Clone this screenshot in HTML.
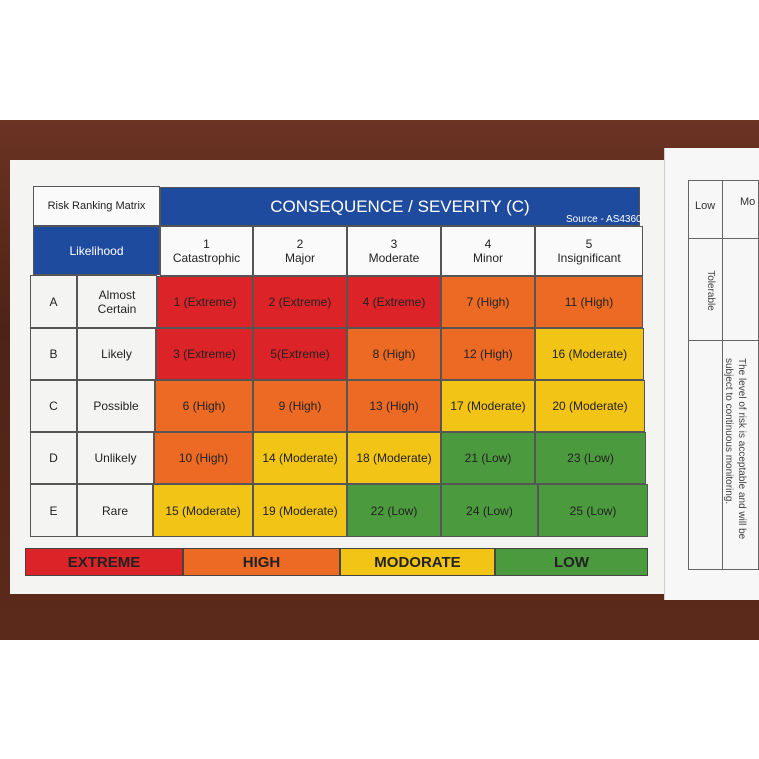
<!DOCTYPE html>
<html><head><style>
body{margin:0;width:759px;height:759px;background:#fff;position:relative;overflow:hidden;font-family:"Liberation Sans",sans-serif}
div{position:absolute;box-sizing:border-box}
.c{display:flex;align-items:center;justify-content:center;text-align:center;font-size:12px;color:#222;border:1px solid #555}
.r{background:#dc2328}.o{background:#ec6a24}.y{background:#f1c416}.g{background:#4b9a3d}
</style></head><body>
<div style="left:0;top:120px;width:759px;height:520px;background:linear-gradient(180deg,#6b3322,#4e2316 40%,#5c2a1b)"></div>
<div style="left:10px;top:160px;width:656px;height:434px;background:#f4f4f2"></div>
<div style="left:664px;top:148px;width:95px;height:452px;background:#f7f7f7;border-left:1px solid #ccc"></div>
<div style="left:688px;top:180px;width:71px;height:390px;border:1px solid #666"></div>
<div style="left:688px;top:238px;width:71px;height:1px;background:#666"></div>
<div style="left:688px;top:340px;width:71px;height:1px;background:#666"></div>
<div style="left:722px;top:180px;width:1px;height:390px;background:#666"></div>
<div style="left:695px;top:200px;font-size:11px;color:#333">Low</div>
<div style="left:740px;top:196px;font-size:11px;color:#333">Mo</div>
<div style="left:690px;top:285px;font-size:10px;color:#444;transform:rotate(90deg)">Tolerable</div>
<div style="left:640px;top:440px;width:190px;font-size:10px;color:#444;transform:rotate(90deg);line-height:13px">The level of risk is acceptable and will be subject to continuous monitoring.</div>

<div class="c" style="left:33px;top:186px;width:127px;height:40px;font-size:11px;background:#fafafa">Risk Ranking Matrix</div>
<div class="c" style="left:160px;top:187px;width:480px;height:39px;background:#1f4b9e;color:#fff;font-size:17px">CONSEQUENCE / SEVERITY (C)</div>
<div style="left:566px;top:214px;font-size:10px;color:#fff">Source - AS4360</div>
<div class="c" style="left:33px;top:226px;width:127px;height:49px;background:#1f4b9e;color:#fff;font-size:12px">Likelihood</div>
<div class="c" style="left:160px;top:226px;width:93px;height:50px;background:#fafafa">1<br>Catastrophic</div>
<div class="c" style="left:253px;top:226px;width:94px;height:50px;background:#fafafa">2<br>Major</div>
<div class="c" style="left:347px;top:226px;width:94px;height:50px;background:#fafafa">3<br>Moderate</div>
<div class="c" style="left:441px;top:226px;width:94px;height:50px;background:#fafafa">4<br>Minor</div>
<div class="c" style="left:535px;top:226px;width:108px;height:50px;background:#fafafa">5<br>Insignificant</div>

<div class="c" style="left:30px;top:275px;width:47px;height:53px">A</div><div class="c" style="left:77px;top:275px;width:80px;height:53px">Almost<br>Certain</div>
<div class="c" style="left:30px;top:328px;width:47px;height:52px">B</div><div class="c" style="left:77px;top:328px;width:79px;height:52px">Likely</div>
<div class="c" style="left:30px;top:380px;width:47px;height:52px">C</div><div class="c" style="left:77px;top:380px;width:78px;height:52px">Possible</div>
<div class="c" style="left:30px;top:432px;width:47px;height:52px">D</div><div class="c" style="left:77px;top:432px;width:77px;height:52px">Unlikely</div>
<div class="c" style="left:30px;top:484px;width:47px;height:53px">E</div><div class="c" style="left:77px;top:484px;width:76px;height:53px">Rare</div>

<div class="c r" style="left:157px;top:276px;width:96px;height:52px">1 (Extreme)</div>
<div class="c r" style="left:253px;top:276px;width:94px;height:52px">2 (Extreme)</div>
<div class="c r" style="left:347px;top:276px;width:94px;height:52px">4 (Extreme)</div>
<div class="c o" style="left:441px;top:276px;width:94px;height:52px">7 (High)</div>
<div class="c o" style="left:535px;top:276px;width:108px;height:52px">11 (High)</div>

<div class="c r" style="left:156px;top:328px;width:97px;height:52px">3 (Extreme)</div>
<div class="c r" style="left:253px;top:328px;width:94px;height:52px">5(Extreme)</div>
<div class="c o" style="left:347px;top:328px;width:94px;height:52px">8 (High)</div>
<div class="c o" style="left:441px;top:328px;width:94px;height:52px">12 (High)</div>
<div class="c y" style="left:535px;top:328px;width:109px;height:52px">16 (Moderate)</div>

<div class="c o" style="left:155px;top:380px;width:98px;height:52px">6 (High)</div>
<div class="c o" style="left:253px;top:380px;width:94px;height:52px">9 (High)</div>
<div class="c o" style="left:347px;top:380px;width:94px;height:52px">13 (High)</div>
<div class="c y" style="left:441px;top:380px;width:94px;height:52px">17 (Moderate)</div>
<div class="c y" style="left:535px;top:380px;width:110px;height:52px">20 (Moderate)</div>

<div class="c o" style="left:154px;top:432px;width:99px;height:52px">10 (High)</div>
<div class="c y" style="left:253px;top:432px;width:94px;height:52px">14 (Moderate)</div>
<div class="c y" style="left:347px;top:432px;width:94px;height:52px">18 (Moderate)</div>
<div class="c g" style="left:441px;top:432px;width:94px;height:52px">21 (Low)</div>
<div class="c g" style="left:535px;top:432px;width:111px;height:52px">23 (Low)</div>

<div class="c y" style="left:153px;top:484px;width:100px;height:53px">15 (Moderate)</div>
<div class="c y" style="left:253px;top:484px;width:94px;height:53px">19 (Moderate)</div>
<div class="c g" style="left:347px;top:484px;width:94px;height:53px">22 (Low)</div>
<div class="c g" style="left:441px;top:484px;width:97px;height:53px">24 (Low)</div>
<div class="c g" style="left:538px;top:484px;width:110px;height:53px">25 (Low)</div>

<div class="c r" style="left:25px;top:548px;width:158px;height:28px;font-size:15px;font-weight:bold;border-color:#444">EXTREME</div>
<div class="c o" style="left:183px;top:548px;width:157px;height:28px;font-size:15px;font-weight:bold;border-color:#444">HIGH</div>
<div class="c y" style="left:340px;top:548px;width:155px;height:28px;font-size:15px;font-weight:bold;border-color:#444">MODORATE</div>
<div class="c g" style="left:495px;top:548px;width:153px;height:28px;font-size:15px;font-weight:bold;border-color:#444">LOW</div>
</body></html>
